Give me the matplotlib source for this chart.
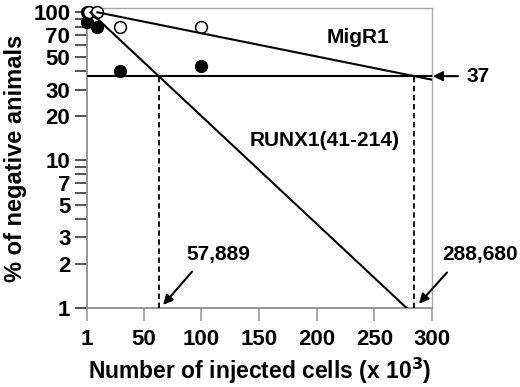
import numpy as np
import matplotlib
matplotlib.use('Agg')
import matplotlib.pyplot as plt
from matplotlib.ticker import FixedLocator, NullLocator

plt.rcParams['font.family'] = ['Liberation Sans', 'DejaVu Sans']
plt.rcParams['font.weight'] = 'bold'
plt.rcParams['axes.labelweight'] = 'bold'
plt.rcParams['mathtext.default'] = 'bf'

# cells injected (x 10^3) and % of negative animals
migr1_x = [3, 10, 30, 100]
migr1_y = [100, 100, 79, 79]
runx1_x = [1, 1, 10, 30, 100]
runx1_y = [100, 86, 79, 40, 43]

# fitted lines (end points)
migr1_fit_x = [10, 300]
migr1_fit_y = [100, 35]
runx1_fit_x = [4, 278]
runx1_fit_y = [100, 1]

level = 37
cross_x = [63.5, 284.5]

yticks_all = [1, 2, 3, 4, 5, 6, 7, 8, 9, 10, 20, 30, 40, 50, 60, 70, 80, 90, 100]
yticks_lab = [1, 2, 3, 5, 7, 10, 20, 30, 50, 70, 100]
xticks = [1, 50, 100, 150, 200, 250, 300]

fig = plt.figure(figsize=(5.2, 3.87), dpi=100)
ax = fig.add_axes([0.1673, 0.2041, 0.6635, 0.7752])

ax.set_yscale('log')
ax.set_xlim(1, 300)
ax.set_ylim(1, 106.9)

ax.plot(runx1_x, runx1_y, 'o', color='black', markersize=8.5, clip_on=False, zorder=3)
ax.plot(migr1_x, migr1_y, 'o', markerfacecolor='white', markeredgecolor='black',
        markeredgewidth=1.1, markersize=8.5, clip_on=False, zorder=4)

ax.plot(migr1_fit_x, migr1_fit_y, color='black', lw=1.5, zorder=5)
ax.plot(runx1_fit_x, runx1_fit_y, color='black', lw=1.5, zorder=5)
ax.plot([1, 300], [level, level], color='black', lw=1.5, zorder=5)
for cx in cross_x:
    ax.plot([cx, cx], [1, level], color='black', lw=1.3, ls=(0, (3, 2)), zorder=5)

ax.yaxis.set_major_locator(FixedLocator(yticks_all))
ax.yaxis.set_minor_locator(NullLocator())
ax.set_yticks(yticks_all)
ax.set_yticklabels([str(t) if t in yticks_lab else '' for t in yticks_all])
ax.set_xticks(xticks)
ax.set_xticklabels([str(t) for t in xticks])

ax.tick_params(axis='y', length=9, width=1.2, color='#333333', pad=3, labelsize=16)
ax.tick_params(axis='x', length=9, width=1.2, color='#999999', pad=6, labelsize=16)
for s in ['left', 'bottom']:
    ax.spines[s].set_color('#8c8c8c')
    ax.spines[s].set_linewidth(1.3)
for s in ['top', 'right']:
    ax.spines[s].set_color('#a8a8a8')
    ax.spines[s].set_linewidth(1.0)

ax.set_xlabel('Number of injected cells (x 10$^{3}$)', fontsize=16.5, labelpad=4)
ax.set_ylabel('% of negative animals', fontsize=17)
ax.yaxis.set_label_coords(-0.175, 0.5)

ax.text(236, 68, 'MigR1', fontsize=15, ha='center', va='center')
ax.text(207, 13.5, 'RUNX1(41-214)', fontsize=15, ha='center', va='center')

arrow = dict(arrowstyle='-|>', color='black', lw=1.5, mutation_scale=14, shrinkA=0, shrinkB=0)
ax.annotate('', xy=(300.8, level), xytext=(322.5, level), arrowprops=arrow, annotation_clip=False)
ax.text(340, level, '37', fontsize=15, ha='center', va='center', clip_on=False)
ax.annotate('', xy=(67, 1.05), xytext=(92, 1.76), arrowprops=arrow, annotation_clip=False)
ax.text(114.5, 2.29, '57,889', fontsize=15, ha='center', va='center')
ax.annotate('', xy=(288.7, 1.07), xytext=(313, 1.74), arrowprops=arrow, annotation_clip=False)
ax.text(341.6, 2.29, '288,680', fontsize=15, ha='center', va='center', clip_on=False)

fig.savefig('out.png', dpi=100)
